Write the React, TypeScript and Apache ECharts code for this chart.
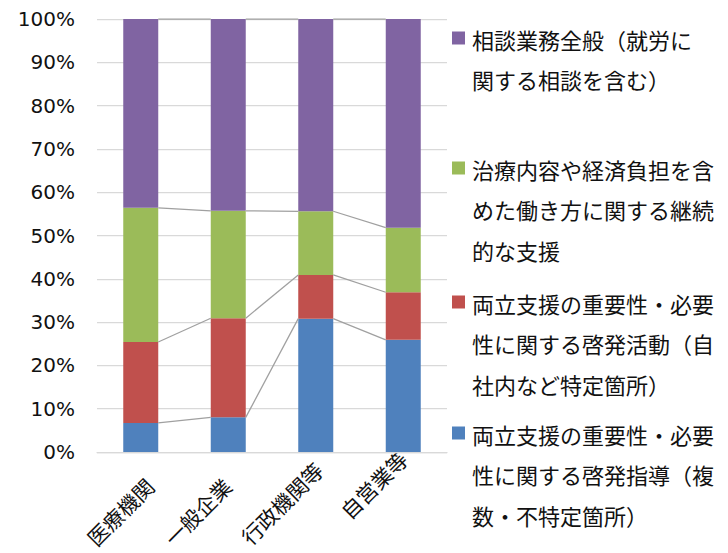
import React, { useEffect, useRef } from 'react';
import * as echarts from 'echarts';

// ---- data ----
const categories = ['医療機関', '一般企業', '行政機関等', '自営業等'];
const seriesNames = [
  '両立支援の重要性・必要性に関する啓発指導（複数・不特定箇所）',
  '両立支援の重要性・必要性に関する啓発活動（自社内など特定箇所）',
  '治療内容や経済負担を含めた働き方に関する継続的な支援',
  '相談業務全般（就労に関する相談を含む）',
];
const blueValues = [6.7, 8.0, 30.8, 25.9];
const redValues = [18.7, 22.9, 10.1, 11.0];
const greenValues = [31.0, 24.8, 14.7, 14.9];
const purpleValues = [43.6, 44.3, 44.4, 48.2];
const yMin = 0;
const yMax = 100;
const yStep = 10;
// legend text as wrapped in the reference (line-break positions only)
const legendBreaks = [
  [11, 22],
  [11, 22],
  [11, 22],
  [10],
];

// ---- styles / layout ----
const seriesColors = ['#4f81bd', '#c0504d', '#9bbb59', '#8064a2'];
const legendFirstLineCenter = [433.5, 302.5, 168.5, 38.5];
// offset of each rotated category label's end from (category centre, axis line)
const labelOffset = [
  [9, 30],
  [-1, 30],
  [3, 14],
  [0, 3],
];
const cjkFont = '"Noto Sans CJK JP", sans-serif';

const stackValues = [blueValues, redValues, greenValues, purpleValues];

function wrap(text: string, breaks: number[]) {
  const parts: string[] = [];
  let prev = 0;
  breaks.forEach((b) => {
    parts.push(text.slice(prev, b));
    prev = b;
  });
  parts.push(text.slice(prev));
  return parts.filter((p) => p.length > 0).join('\n');
}

export default function App() {
  const ref = useRef<HTMLDivElement>(null);
  useEffect(() => {
    if (!ref.current) return;
    const chart = echarts.init(ref.current, undefined, { renderer: 'svg' });

    const cum = stackValues.map((_, k) =>
      categories.map((__, i) => stackValues.slice(0, k + 1).reduce((s, arr) => s + arr[i], 0))
    );
    const lineData: number[][] = [];
    cum.forEach((levels) => {
      for (let i = 0; i < categories.length - 1; i++) {
        lineData.push([i, levels[i], levels[i + 1]]);
      }
    });

    const barSeries = stackValues.map((vals, k) => ({
      name: seriesNames[k],
      type: 'bar',
      stack: 'total',
      barWidth: '40%',
      data: vals,
      itemStyle: { color: seriesColors[k] },
    }));

    const graphics: any[] = [];
    stackValues.forEach((_, k) => {
      const cy = legendFirstLineCenter[k];
      graphics.push({
        type: 'rect',
        shape: { x: 452, y: cy - 7, width: 13, height: 13 },
        style: { fill: seriesColors[k] },
      });
      graphics.push({
        type: 'text',
        x: 472,
        y: cy - 20.25,
        style: {
          text: wrap(seriesNames[k], legendBreaks[k]),
          fontSize: 22,
          fontFamily: cjkFont,
          lineHeight: 40.5,
          fill: '#111',
          verticalAlign: 'top',
          align: 'left',
        },
      });
    });

    const option: any = {
      animation: false,
      backgroundColor: '#ffffff',
      grid: { left: 97, right: 281, top: 19, bottom: 101, outerBoundsMode: 'none', containLabel: false },
      xAxis: {
        type: 'category',
        data: categories,
        axisLine: { show: true, lineStyle: { color: '#d9d9d9', width: 1.25 } },
        axisTick: { show: false },
        axisLabel: { show: false },
      },
      yAxis: {
        type: 'value',
        min: yMin,
        max: yMax,
        interval: yStep,
        axisLine: { show: false },
        axisTick: { show: false },
        splitLine: { lineStyle: { color: '#d9d9d9', width: 1.25 } },
        axisLabel: {
          formatter: '{value}%',
          margin: 22,
          fontSize: 20,
          fontFamily: '"DejaVu Sans", sans-serif',
          color: '#111',
        },
      },
      series: [
        ...barSeries,
        {
          type: 'custom',
          silent: true,
          z: 3,
          encode: { x: 0, y: 1 },
          data: lineData,
          renderItem: (params: any, api: any) => {
            const i = api.value(0);
            const a = api.coord([i, api.value(1)]);
            const b = api.coord([i + 1, api.value(2)]);
            const half = api.size([1, 0])[0] * 0.2;
            return {
              type: 'line',
              shape: { x1: a[0] + half, y1: a[1], x2: b[0] - half, y2: b[1] },
              style: { stroke: '#a0a0a0', lineWidth: 1.25 },
            };
          },
        },
      ],
      graphic: graphics,
    };
    chart.setOption(option);

    // category labels, rotated 45°, placed from the axis scale
    const axisY = chart.convertToPixel({ yAxisIndex: 0 }, yMin) as number;
    const labelGraphics = categories.map((c, i) => {
      const px = chart.convertToPixel({ xAxisIndex: 0 }, c) as number;
      return {
        type: 'text',
        x: px + labelOffset[i][0],
        y: axisY + labelOffset[i][1],
        rotation: Math.PI / 4,
        style: {
          text: c,
          fontSize: 21,
          fontFamily: cjkFont,
          fill: '#111',
          align: 'right',
          verticalAlign: 'middle',
        },
      };
    });
    chart.setOption({ graphic: [...graphics, ...labelGraphics] });

    return () => chart.dispose();
  }, []);

  return (
    <div
      ref={ref}
      style={{ position: 'absolute', left: 0, top: 0, width: 728, height: 553, background: '#fff' }}
    />
  );
}
